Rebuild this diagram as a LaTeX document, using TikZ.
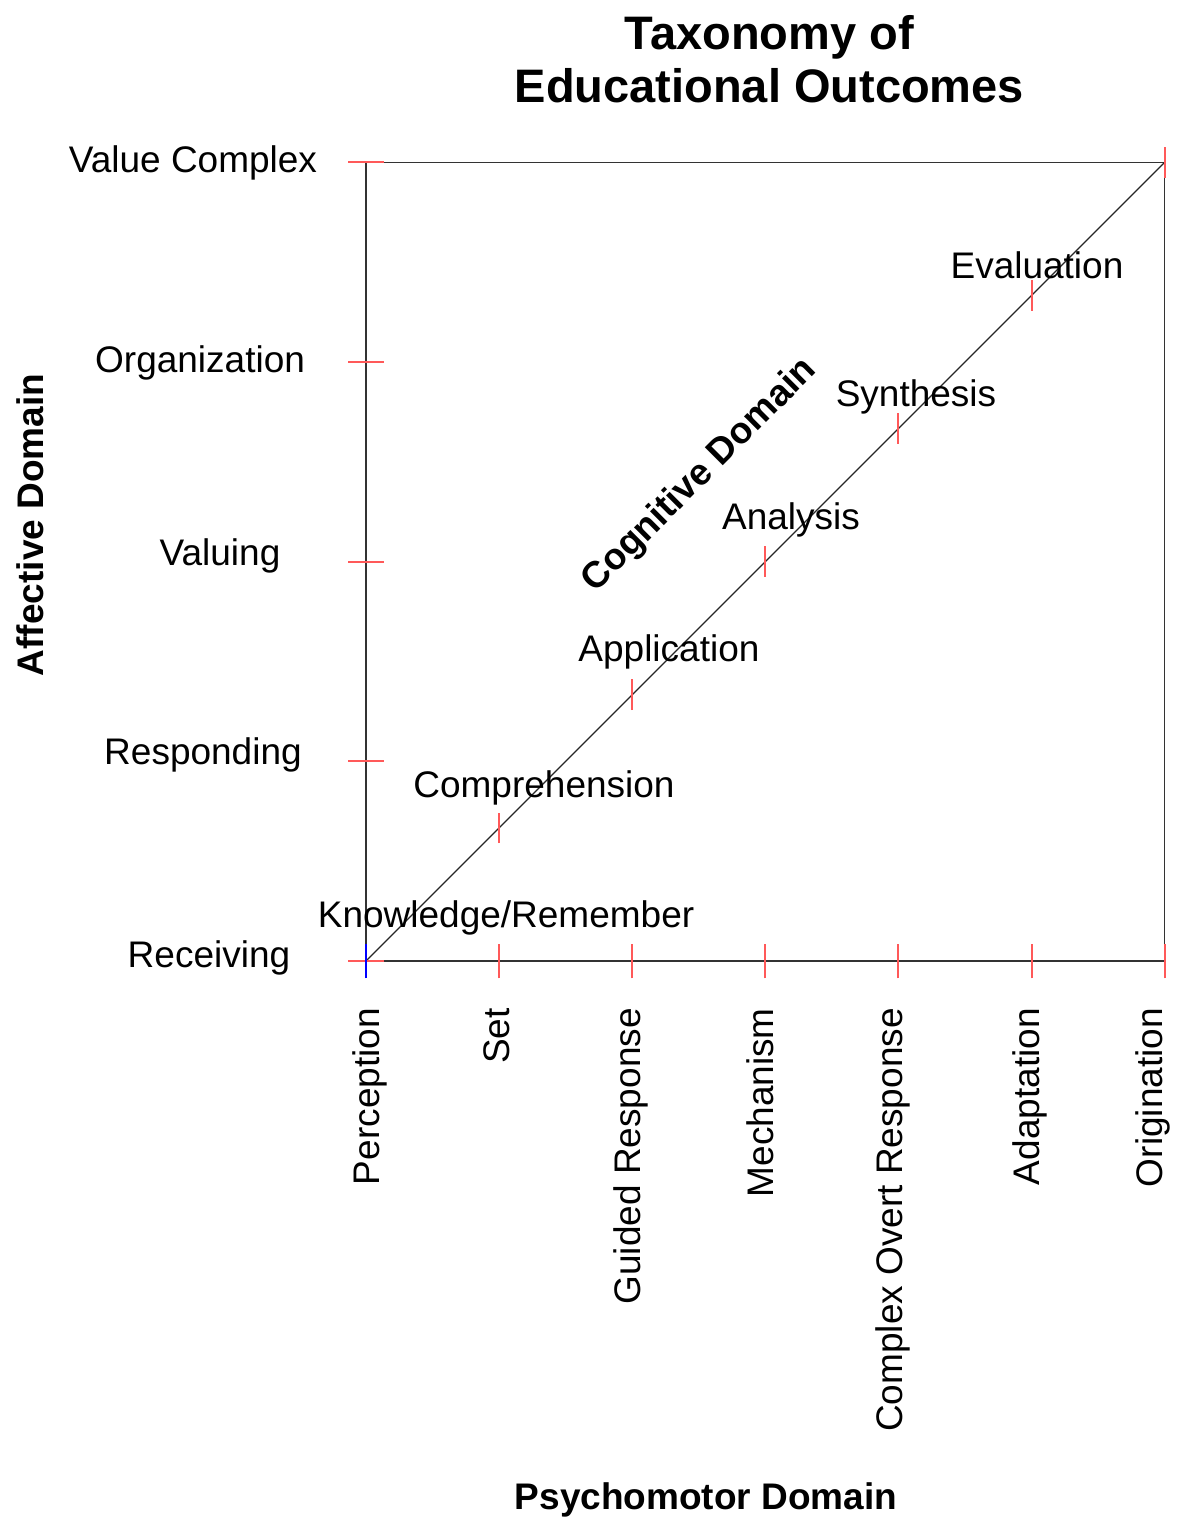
\documentclass[tikz,border=0pt]{standalone}
\usepackage{fontspec}
\setmainfont{Liberation Sans}

\begin{document}
\begin{tikzpicture}[x=133.1pt, y=133.1pt,
	axisline/.style={draw=black!80, line width=1.4pt},
	redtick/.style={draw=red!65, line width=2pt},
	lbl/.style={font=\fontsize{37}{44}\selectfont, inner sep=0pt},
	bold lbl/.style={font=\fontsize{37}{44}\selectfont\bfseries, inner sep=0pt}]
	\fill[white] (-2.75,-4.215) rectangle (6.086,7.22);
	\useasboundingbox (-2.75,-4.215) rectangle (6.086,7.22);

	% frame and the cognitive diagonal
	\draw[axisline] (0,0) rectangle (6,6);
	\draw[draw=black!85, line width=1.1pt] (0,0) -- (6,6);

	% affective ticks on the left side
	\draw[redtick] (-0.135,0) -- (0.135,0);
	\draw[redtick] (-0.135,1.5) -- (0.135,1.5);
	\draw[redtick] (-0.135,3) -- (0.135,3);
	\draw[redtick] (-0.135,4.5) -- (0.135,4.5);
	\draw[redtick] (-0.135,6) -- (0.135,6);

	% psychomotor ticks along the bottom
	\draw[redtick] (1,-0.13) -- (1,0.13);
	\draw[redtick] (2,-0.13) -- (2,0.13);
	\draw[redtick] (3,-0.13) -- (3,0.13);
	\draw[redtick] (4,-0.13) -- (4,0.13);
	\draw[redtick] (5,-0.13) -- (5,0.13);
	\draw[redtick] (6,-0.13) -- (6,0.13);
	\draw[draw=blue, line width=2pt] (0,-0.13) -- (0,0.13);

	% cognitive ticks on the diagonal
	\draw[redtick] (1,0.885) -- (1,1.115);
	\draw[redtick] (2,1.885) -- (2,2.115);
	\draw[redtick] (3,2.885) -- (3,3.115);
	\draw[redtick] (4,3.885) -- (4,4.115);
	\draw[redtick] (5,4.885) -- (5,5.115);
	\draw[redtick] (6,5.885) -- (6,6.115);

	% titles
	\node[bold lbl, align=center, font=\fontsize{47}{53}\selectfont\bfseries] (title) at (3.03,6.773) {Taxonomy of\\Educational Outcomes};
	\node[bold lbl, rotate=90] (affective) at (-2.524,3.276) {Affective Domain};
	\node[bold lbl] (psychomotor) at (2.554,-4.05) {Psychomotor Domain};
	\node[bold lbl, rotate=45] (cognitive) at (2.509,3.644) {Cognitive Domain};

	% affective levels
	\node[lbl] (receiving) at (-1.18,0.02) {Receiving};
	\node[lbl] (responding) at (-1.225,1.545) {Responding};
	\node[lbl] (valuing) at (-1.097,3.04) {Valuing};
	\node[lbl] (organization) at (-1.247,4.49) {Organization};
	\node[lbl] (valuecomplex) at (-1.30,5.995) {Value Complex};

	% psychomotor levels
	\node[lbl, rotate=90, anchor=east] (perception) at (0.03,-0.353) {Perception};
	\node[lbl, rotate=90, anchor=east] (set) at (0.98,-0.353) {Set};
	\node[lbl, rotate=90, anchor=east] (guided) at (1.99,-0.353) {Guided Response};
	\node[lbl, rotate=90, anchor=east] (mechanism) at (2.96,-0.353) {Mechanism};
	\node[lbl, rotate=90, anchor=east] (complexovert) at (3.96,-0.353) {Complex Overt Response};
	\node[lbl, rotate=90, anchor=east] (adaptation) at (4.99,-0.353) {Adaptation};
	\node[lbl, rotate=90, anchor=east] (origination) at (5.91,-0.353) {Origination};

	% cognitive levels
	\node[lbl] (knowledge) at (1.052,0.323) {Knowledge/Remember};
	\node[lbl] (comprehension) at (1.337,1.30) {Comprehension};
	\node[lbl] (application) at (2.276,2.32) {Application};
	\node[lbl] (analysis) at (3.193,3.313) {Analysis};
	\node[lbl] (synthesis) at (4.132,4.237) {Synthesis};
	\node[lbl] (evaluation) at (5.041,5.229) {Evaluation};

\end{tikzpicture}
\end{document}
